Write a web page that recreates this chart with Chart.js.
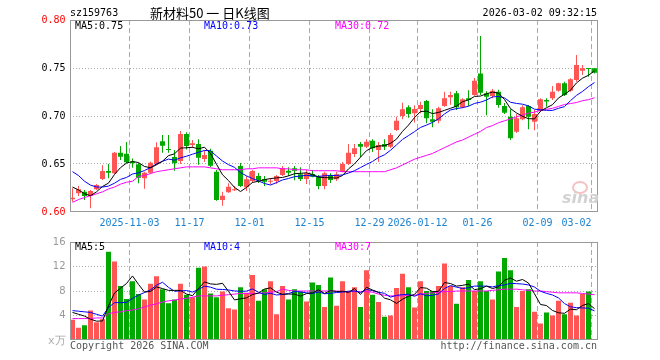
<!DOCTYPE html>
<html>
<head>
<meta charset="utf-8">
<script src="https://cdn.jsdelivr.net/npm/chart.js@4.4.1/dist/chart.umd.min.js"></script>
<style>
  html, body { margin: 0; padding: 0; background: #fff; }
  #wrap { position: relative; width: 660px; height: 360px; overflow: hidden; font-family: "DejaVu Sans Mono", monospace; font-size: 10px; }
  canvas { position: absolute; left: 0; }
  .t { position: absolute; white-space: pre; line-height: 12px; }
</style>
</head>
<body>
<div id="wrap">
  <canvas id="kChart" width="660" height="232" style="top:0"></canvas>
  <canvas id="volChart" width="660" height="128" style="top:232px"></canvas>

  <div class="t" style="left:70px;top:7px;color:#000">sz159763</div>
  <div class="t" style="left:150px;top:4px;font-family:'Noto Sans CJK SC',sans-serif;font-size:13px;line-height:17px;color:#000">新材料50 一 日K线图</div>
  <div class="t" style="right:63px;top:7px;color:#000">2026-03-02 09:32:15</div>

  <div class="t" style="left:75px;top:20px;color:#000">MA5:0.75</div>
  <div class="t" style="left:204px;top:20px;color:#0000ff">MA10:0.73</div>
  <div class="t" style="left:335px;top:20px;color:#ff00ff">MA30:0.72</div>

  <div class="t" style="left:572px;top:181px;width:12px;height:9px;border:2px solid rgba(240,140,140,0.55);border-radius:50%"></div>
  <div class="t" style="left:562px;top:190px;font-family:'DejaVu Sans',sans-serif;font-weight:bold;font-style:italic;font-size:16px;line-height:16px;color:#d2d2d2">sina</div>

  <div class="t" style="left:75px;top:241px;color:#000">MA5:5</div>
  <div class="t" style="left:204px;top:241px;color:#0000ff">MA10:4</div>
  <div class="t" style="left:335px;top:241px;color:#ff00ff">MA30:7</div>

  <div class="t" style="left:48px;top:335px;color:#aaa;font-size:11px">x万</div>
  <div class="t" style="left:70px;top:340px;color:#555">Copyright 2026 SINA.COM</div>
  <div class="t" style="right:63px;top:340px;color:#555">http://finance.sina.com.cn</div>
</div>

<script>
// ---- trading days ----
const dates = [
  '2025-10-20','2025-10-21','2025-10-22','2025-10-23','2025-10-24','2025-10-27','2025-10-28','2025-10-29','2025-10-30','2025-10-31',
  '2025-11-03','2025-11-04','2025-11-05','2025-11-06','2025-11-07','2025-11-10','2025-11-11','2025-11-12','2025-11-13','2025-11-14',
  '2025-11-17','2025-11-18','2025-11-19','2025-11-20','2025-11-21','2025-11-24','2025-11-25','2025-11-26','2025-11-27','2025-11-28',
  '2025-12-01','2025-12-02','2025-12-03','2025-12-04','2025-12-05','2025-12-08','2025-12-09','2025-12-10','2025-12-11','2025-12-12',
  '2025-12-15','2025-12-16','2025-12-17','2025-12-18','2025-12-19','2025-12-22','2025-12-23','2025-12-24','2025-12-25','2025-12-26',
  '2025-12-29','2025-12-30','2025-12-31','2026-01-05','2026-01-06','2026-01-07','2026-01-08','2026-01-09',
  '2026-01-12','2026-01-13','2026-01-14','2026-01-15','2026-01-16','2026-01-19','2026-01-20','2026-01-21','2026-01-22','2026-01-23',
  '2026-01-26','2026-01-27','2026-01-28','2026-01-29','2026-01-30','2026-02-02','2026-02-03','2026-02-04','2026-02-05','2026-02-06',
  '2026-02-09','2026-02-10','2026-02-11','2026-02-12','2026-02-13','2026-02-24','2026-02-25','2026-02-26','2026-02-27','2026-03-02'
];

// ---- tick labels ----
const tickDates = ['2025-11-03','2025-11-17','2025-12-01','2025-12-15','2025-12-29','2026-01-12','2026-01-26','2026-02-09','2026-03-02'];
const tickText  = ['2025-11-03','11-17','12-01','12-15','12-29','2026-01-12','01-26','02-09','03-02'];
const priceTicks = [0.60, 0.65, 0.70, 0.75, 0.80];
const volTicks   = [0, 4, 8, 12, 16];

// ---- OHLC ----
const open = [
  0.6132,0.6195,0.6212,0.6167,0.6236,0.6344,0.6427,0.6403,0.6618,0.6607,
  0.6524,0.6497,0.6351,0.6410,0.6500,0.6736,0.6656,0.6573,0.6530,0.6813,
  0.6698,0.6708,0.6552,0.6639,0.6420,0.6125,0.6205,0.6226,0.6479,0.6257,
  0.6323,0.6375,0.6340,0.6316,0.6323,0.6385,0.6430,0.6455,0.6393,0.6344,
  0.6396,0.6368,0.6271,0.6385,0.6340,0.6420,0.6500,0.6604,0.6708,0.6680,
  0.6743,0.6646,0.6708,0.6680,0.6854,0.7000,0.7090,0.7028,0.7073,0.7156,
  0.6966,0.6951,0.7104,0.7195,0.7236,0.7090,0.7184,0.7219,0.7444,0.7236,
  0.7208,0.7253,0.7104,0.6993,0.6837,0.6966,0.7104,0.6941,0.7055,0.7167,
  0.7184,0.7264,0.7340,0.7264,0.7375,0.7472,0.7497,0.7497
];
const high = [
  0.6247,0.6270,0.6229,0.6229,0.6292,0.6486,0.6500,0.6625,0.6688,0.6729,
  0.6556,0.6510,0.6420,0.6524,0.6726,0.6802,0.6802,0.6646,0.6844,0.6830,
  0.6750,0.6757,0.6646,0.6660,0.6437,0.6212,0.6299,0.6270,0.6510,0.6372,
  0.6437,0.6406,0.6375,0.6351,0.6385,0.6479,0.6465,0.6479,0.6465,0.6437,
  0.6437,0.6385,0.6420,0.6403,0.6420,0.6521,0.6708,0.6708,0.6729,0.6757,
  0.6757,0.6729,0.6757,0.6823,0.6993,0.7139,0.7113,0.7113,0.7149,0.7167,
  0.7070,0.7097,0.7253,0.7253,0.7260,0.7184,0.7267,0.7396,0.7833,0.7257,
  0.7280,0.7274,0.7135,0.7070,0.7021,0.7111,0.7115,0.7063,0.7184,0.7184,
  0.7313,0.7347,0.7358,0.7392,0.7635,0.7531,0.7500,0.7500
];
const low = [
  0.6107,0.6167,0.6125,0.6038,0.6229,0.6333,0.6351,0.6395,0.6542,0.6507,
  0.6460,0.6299,0.6243,0.6399,0.6490,0.6618,0.6618,0.6430,0.6500,0.6650,
  0.6667,0.6493,0.6520,0.6470,0.6118,0.6066,0.6200,0.6219,0.6260,0.6219,
  0.6302,0.6302,0.6271,0.6288,0.6295,0.6375,0.6375,0.6330,0.6323,0.6292,
  0.6361,0.6237,0.6237,0.6302,0.6323,0.6413,0.6490,0.6573,0.6573,0.6667,
  0.6625,0.6521,0.6646,0.6667,0.6844,0.6966,0.6983,0.6931,0.7028,0.6924,
  0.6882,0.6924,0.7097,0.7118,0.7063,0.7080,0.7104,0.7212,0.7219,0.7007,
  0.7184,0.7087,0.7021,0.6750,0.6823,0.6955,0.6861,0.6851,0.7045,0.7097,
  0.7167,0.7253,0.7208,0.7253,0.7358,0.7427,0.7410,0.7444
];
const close = [
  0.6149,0.6236,0.6167,0.6219,0.6281,0.6427,0.6410,0.6618,0.6576,0.6518,
  0.6507,0.6357,0.6410,0.6514,0.6674,0.6691,0.6646,0.6507,0.6813,0.6688,
  0.6715,0.6566,0.6594,0.6483,0.6125,0.6170,0.6264,0.6236,0.6271,0.6340,
  0.6427,0.6333,0.6316,0.6323,0.6375,0.6455,0.6410,0.6430,0.6344,0.6403,
  0.6368,0.6271,0.6403,0.6333,0.6393,0.6500,0.6618,0.6663,0.6680,0.6733,
  0.6663,0.6698,0.6680,0.6802,0.6951,0.7070,0.7021,0.7073,0.7115,0.6976,
  0.6941,0.7080,0.7184,0.7219,0.7090,0.7174,0.7167,0.7368,0.7243,0.7201,
  0.7264,0.7115,0.7035,0.6768,0.6976,0.7090,0.6993,0.7021,0.7174,0.7150,
  0.7253,0.7340,0.7219,0.7382,0.7531,0.7497,0.7490,0.7451
];

// ---- price moving averages ----
const ma5 = [
  0.626,0.623,0.619,0.617,0.6210,0.6266,0.6301,0.6391,0.6462,0.6510,
  0.6526,0.6515,0.6474,0.6461,0.6492,0.6529,0.6587,0.6606,0.6666,0.6669,
  0.6674,0.6658,0.6675,0.6609,0.6497,0.6388,0.6327,0.6256,0.6213,0.6256,
  0.6308,0.6321,0.6337,0.6348,0.6355,0.6360,0.6376,0.6399,0.6403,0.6408,
  0.6391,0.6363,0.6358,0.6356,0.6354,0.6380,0.6449,0.6501,0.6571,0.6639,
  0.6671,0.6687,0.6691,0.6715,0.6759,0.6840,0.6905,0.6983,0.7046,0.7051,
  0.7025,0.7037,0.7059,0.7080,0.7103,0.7149,0.7167,0.7204,0.7208,0.7231,
  0.7249,0.7238,0.7172,0.7077,0.7032,0.6997,0.6972,0.6970,0.7051,0.7086,
  0.7118,0.7188,0.7227,0.7269,0.7345,0.7394,0.7424,0.7470
];
const ma10 = [
  0.642,0.638,0.632,0.628,0.626,0.626,0.627,0.630,0.634,0.6360,
  0.6396,0.6408,0.6432,0.6462,0.6501,0.6528,0.6551,0.6540,0.6564,0.6581,
  0.6602,0.6622,0.6641,0.6638,0.6583,0.6531,0.6493,0.6465,0.6411,0.6376,
  0.6348,0.6324,0.6297,0.6281,0.6306,0.6334,0.6349,0.6368,0.6375,0.6382,
  0.6376,0.6370,0.6378,0.6379,0.6381,0.6386,0.6406,0.6430,0.6463,0.6496,
  0.6526,0.6568,0.6596,0.6643,0.6699,0.6756,0.6796,0.6837,0.6881,0.6905,
  0.6933,0.6971,0.7021,0.7063,0.7077,0.7087,0.7102,0.7131,0.7144,0.7167,
  0.7199,0.7203,0.7188,0.7143,0.7131,0.7123,0.7105,0.7071,0.7064,0.7059,
  0.7058,0.7080,0.7098,0.7160,0.7215,0.7256,0.7306,0.7349
];
const ma30 = [
  0.610,0.613,0.615,0.617,0.619,0.621,0.624,0.626,0.629,0.631,
  0.632,0.637,0.638,0.640,0.642,0.643,0.644,0.645,0.646,0.647,
  0.647,0.647,0.647,0.646,0.645,0.644,0.644,0.644,0.644,0.645,
  0.645,0.646,0.646,0.646,0.646,0.645,0.645,0.644,0.644,0.644,
  0.643,0.643,0.643,0.643,0.643,0.642,0.642,0.642,0.642,0.642,
  0.642,0.642,0.642,0.644,0.646,0.649,0.652,0.655,0.657,0.659,
  0.661,0.664,0.667,0.670,0.673,0.675,0.678,0.681,0.684,0.688,
  0.690,0.693,0.695,0.697,0.699,0.701,0.703,0.704,0.706,0.707,
  0.708,0.710,0.712,0.713,0.714,0.716,0.717,0.719
];

// ---- volume (x万) ----
const volume = [
  3.3,2.0,2.4,4.8,2.9,3.4,14.4,12.8,8.8,6.7,
  9.6,7.5,6.6,9.2,10.4,8.3,6.0,6.6,9.2,7.4,
  7.0,11.8,12.0,7.6,7.0,7.9,5.2,5.0,8.6,7.7,
  10.6,6.4,8.3,9.6,4.2,8.8,6.6,8.3,7.9,6.3,
  9.4,9.0,5.4,10.2,5.6,9.6,8.0,8.6,5.4,11.4,
  7.4,6.2,3.8,4.0,8.5,10.8,8.6,5.3,9.6,8.0,
  8.0,8.8,12.5,8.8,5.9,8.6,9.8,8.0,9.6,8.0,
  6.6,11.2,13.4,11.4,5.4,8.0,8.3,4.6,2.7,4.5,
  4.0,6.4,4.2,6.1,4.0,7.5,7.9,0.16
];
const vma5 = [
  4.5,4.2,3.9,3.4,3.08,3.1,5.58,7.66,8.46,9.22,
  10.46,9.08,7.84,7.92,8.66,8.4,8.1,8.1,8.1,7.5,
  7.24,8.4,9.48,9.16,9.08,9.26,7.94,6.54,6.74,6.88,
  7.42,7.66,8.32,8.52,7.82,7.46,7.5,7.5,7.16,7.58,
  7.7,8.18,7.6,8.06,7.92,7.96,7.76,8.4,7.44,8.6,
  8.16,7.8,6.84,6.56,5.98,6.66,7.14,7.44,8.56,8.46,
  7.9,7.94,9.38,9.22,8.8,8.92,9.12,8.22,8.38,8.8,
  8.4,8.68,9.76,10.12,9.6,9.88,9.3,7.54,5.8,5.62,
  4.82,4.44,4.36,5.04,4.94,5.64,5.94,5.13
];
const vma10 = [
  4.8,4.7,4.6,4.5,4.2,3.9,5.3,6.1,6.1,6.15,
  6.78,7.33,7.75,8.19,8.94,9.43,8.59,7.97,8.01,8.08,
  7.82,8.25,8.79,8.63,8.29,8.25,8.17,8.01,7.95,7.98,
  8.34,7.80,7.43,7.63,7.35,7.44,7.58,7.91,7.84,7.70,
  7.58,7.84,7.55,7.61,7.75,7.83,7.97,8.00,7.75,8.26,
  8.06,7.78,7.62,7.00,7.29,7.41,7.47,7.14,7.56,7.22,
  7.28,7.54,8.41,8.89,8.63,8.41,8.53,8.80,8.80,8.80,
  8.66,8.90,8.99,9.25,9.20,9.14,8.99,8.65,7.96,7.61,
  7.35,6.87,5.95,5.42,5.28,5.23,5.19,4.75
];
const vma30 = [
  3.5,3.5,3.5,3.5,3.6,3.6,4.3,4.5,4.6,4.8,
  4.9,5.1,5.4,5.7,5.9,6.2,6.4,6.5,6.7,6.8,
  7.0,7.2,7.2,7.2,7.2,7.3,7.4,7.5,7.6,7.6,
  7.6,7.6,7.7,7.8,7.9,8.3,8.1,8.0,8.0,8.0,
  8.0,8.0,8.0,8.0,8.0,7.9,7.9,7.9,7.9,7.9,
  7.8,7.5,7.3,7.2,7.2,7.2,7.3,7.3,7.5,7.6,
  7.7,7.8,7.9,7.9,8.0,8.0,8.0,8.0,8.0,8.0,
  8.1,8.2,8.3,8.3,8.3,8.2,8.1,8.0,8.0,7.9,
  7.8,7.7,7.7,7.7,7.7,7.6,7.5,7.4
];

// ---- styling ----
const upColor = '#ff5555';
const downColor = '#00a800';
const gridGray = '#aaaaaa';
const monoFont = "'DejaVu Sans Mono', monospace";
Chart.defaults.font.family = monoFont;
Chart.defaults.font.size = 10;

const candleColors = close.map((c, i) => c >= open[i] ? upColor : downColor);
const tickIndex = tickDates.map(d => dates.indexOf(d));
const lastIdx = dates.length - 1;

const framePlugin = {
  id: 'frame',
  afterDraw(chart) {
    const { ctx, chartArea: a } = chart;
    const l = Math.round(a.left) + 0.5, t = Math.round(a.top) + 0.5;
    const r = Math.round(a.right) - 0.5, b = Math.round(a.bottom) - 0.5;
    ctx.save();
    ctx.strokeStyle = '#999';
    ctx.lineWidth = 1;
    ctx.strokeRect(l, t, r - l, b - t);
    ctx.restore();
  }
};

const lineDs = (data, color) => ({
  type: 'line', data, borderColor: color, borderWidth: 1,
  pointRadius: 0, tension: 0, fill: false, order: 0
});

const xGridColor = ctx => tickIndex.includes(ctx.index) ? gridGray : 'rgba(0,0,0,0)';

// ---- K-line chart ----
new Chart(document.getElementById('kChart'), {
  type: 'bar',
  data: {
    labels: dates,
    datasets: [
      lineDs(ma5, '#000000'),
      lineDs(ma10, '#0000ff'),
      lineDs(ma30, '#ff00ff'),
      {
        data: open.map((o, i) => [o, close[i]]),
        backgroundColor: candleColors, barThickness: 5, minBarLength: 1,
        inflateAmount: 0, grouped: false, order: 1
      },
      {
        data: low.map((l, i) => [l, high[i]]),
        backgroundColor: candleColors, barThickness: 1,
        inflateAmount: 0, grouped: false, order: 2
      }
    ]
  },
  options: {
    responsive: false,
    animation: false,
    layout: { padding: { top: 20, right: 62.5, bottom: 0, left: 0 } },
    plugins: { legend: { display: false }, tooltip: { enabled: false } },
    scales: {
      x: {
        offset: true,
        grid: { offset: true, drawTicks: false, color: xGridColor, lineWidth: 1 },
        border: { display: false, dash: [5, 3] },
        ticks: {
          autoSkip: false, maxRotation: 0, minRotation: 0, padding: 5, labelOffset: -3,
          color: '#1a82d0', font: { family: monoFont, size: 10 },
          callback: (v, i) => {
            const k = tickIndex.indexOf(i);
            if (k < 0) return '';
            return i === lastIdx ? tickText[k] + '     ' : tickText[k];
          }
        },
        afterFit: s => { s.height = 20; }
      },
      y: {
        min: priceTicks[0], max: priceTicks[priceTicks.length - 1],
        grid: { drawTicks: false, color: ctx => (ctx.index > 0 && ctx.index < priceTicks.length - 1) ? gridGray : 'rgba(0,0,0,0)' },
        border: { display: false, dash: [1, 2] },
        ticks: {
          stepSize: priceTicks[1] - priceTicks[0], padding: 4,
          font: { family: monoFont, size: 10 },
          color: ctx => (ctx.index === 0 || ctx.index === priceTicks.length - 1) ? '#ff0000' : '#000000',
          callback: v => Number(v).toFixed(2)
        },
        afterFit: s => { s.width = 69.5; }
      }
    }
  },
  plugins: [framePlugin]
});

// ---- Volume chart ----
new Chart(document.getElementById('volChart'), {
  type: 'bar',
  data: {
    labels: dates,
    datasets: [
      lineDs(vma5, '#000000'),
      lineDs(vma10, '#0000ff'),
      lineDs(vma30, '#ff00ff'),
      {
        data: volume, backgroundColor: candleColors, barThickness: 5,
        inflateAmount: 0, order: 1
      }
    ]
  },
  options: {
    responsive: false,
    animation: false,
    layout: { padding: { top: 8, right: 62.5, bottom: 20, left: 0 } },
    plugins: { legend: { display: false }, tooltip: { enabled: false } },
    scales: {
      x: {
        offset: true,
        grid: { offset: true, drawTicks: false, color: xGridColor, lineWidth: 1 },
        border: { display: false, dash: [5, 3] },
        ticks: { display: false },
        afterFit: s => { s.height = 0; }
      },
      y: {
        min: volTicks[0], max: volTicks[volTicks.length - 1],
        grid: { drawTicks: false, color: ctx => (ctx.index > 0 && ctx.index < volTicks.length - 1) ? gridGray : 'rgba(0,0,0,0)' },
        border: { display: false, dash: [1, 2] },
        ticks: {
          stepSize: volTicks[1] - volTicks[0], padding: 4, color: '#999999',
          font: { family: "'DejaVu Sans', sans-serif", size: 10 },
          callback: v => v === 0 ? '' : v
        },
        afterFit: s => { s.width = 69.5; }
      }
    }
  },
  plugins: [framePlugin]
});
</script>
</body>
</html>
